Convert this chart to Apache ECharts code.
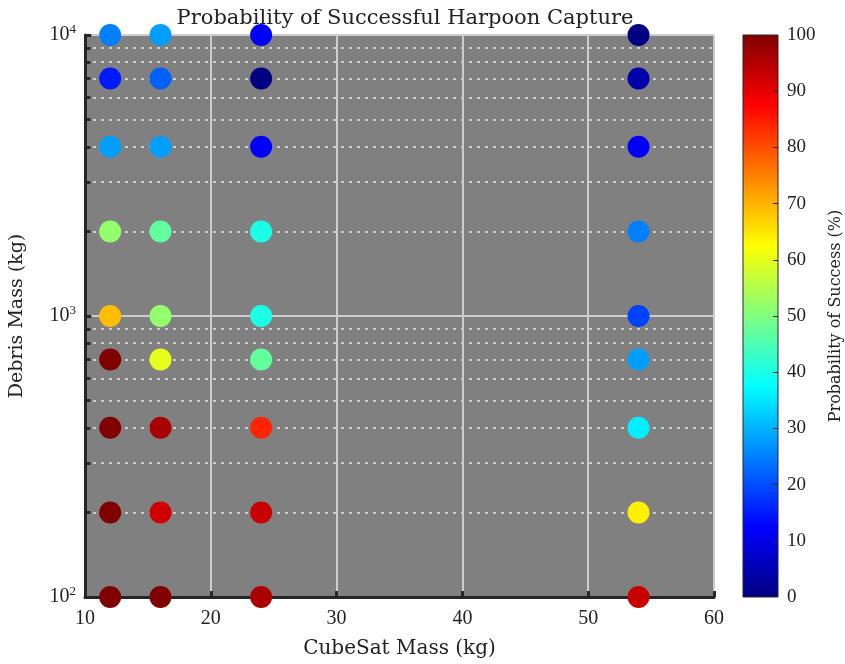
<!DOCTYPE html>
<html>
<head>
<meta charset="utf-8">
<script src="https://cdn.jsdelivr.net/npm/echarts@6/dist/echarts.min.js"></script>
<style>
html,body{margin:0;padding:0;background:#fff;}
#chart{width:845px;height:664px;}
</style>
</head>
<body>
<div id="chart"></div>
<script>
// ---- data ----
const cubesatMass = [12, 16, 24, 54];
const debrisMass = [100, 200, 400, 700, 1000, 2000, 4000, 7000, 10000];
// probability of success (%) for each debris mass, one array per CubeSat mass
const probCube12 = [100, 100, 100, 100, 69, 52, 28, 15, 25];
const probCube16 = [100, 92, 96, 60, 52, 47, 28, 22, 28];
const probCube24 = [96, 93, 84, 47, 40, 40, 12, 0, 12];
const probCube54 = [93, 64, 36, 28, 19, 25, 12, 4, 0];
const xTicks = [10, 20, 30, 40, 50, 60];
const minorY = [200, 300, 400, 500, 600, 700, 800, 900, 2000, 3000, 4000, 5000, 6000, 7000, 8000, 9000];
const majorY = [100, 1000, 10000];
const colorbarTicks = [10, 20, 30, 40, 50, 60, 70, 80, 90];

const jet = ['#000080', '#0000FF', '#0080FF', '#00FFFF', '#80FF80', '#FFFF00', '#FF8000', '#FF0000', '#800000'];

const probByCube = [probCube12, probCube16, probCube24, probCube54];
const points = [];
cubesatMass.forEach((cx, i) => {
  debrisMass.forEach((dy, j) => {
    points.push([cx, dy, probByCube[i][j]]);
  });
});

const numFont = 'Liberation Serif';
const txtFont = 'DejaVu Serif';
const axisDark = '#262626';
const gridLight = '#cdcdcd';

// minor dotted grid lines + left-axis ticks, x-axis ticks, colorbar ticks via markLine
const minorLines = minorY.map(v => ({ yAxis: v }));
const darkTick = { lineStyle: { color: axisDark, type: 'solid', width: 3 } };
const tickLines = [];
minorY.forEach(v => tickLines.push([Object.assign({ coord: [10, v] }, darkTick), { coord: [10.42, v] }]));
majorY.forEach(v => tickLines.push([Object.assign({ coord: [10, v] }, darkTick), { coord: [10.5, v] }]));
xTicks.forEach(v => tickLines.push([Object.assign({ coord: [v, 100] }, darkTick), { coord: [v, 105] }]));
const cbTickLines = colorbarTicks.map(v => [
  { coord: [1, v], lineStyle: { color: axisDark, type: 'solid', width: 1 } },
  { coord: [0.86, v] }
]);

const chart = echarts.init(document.getElementById('chart'), null, { renderer: 'canvas' });
chart.setOption({
  backgroundColor: '#ffffff',
  animation: false,
  title: {
    text: 'Probability of Successful Harpoon Capture',
    left: 400, top: 3, textAlign: 'center',
    textStyle: { fontFamily: txtFont, fontWeight: 'normal', fontSize: 21, color: '#222' }
  },
  grid: [
    { left: 85, top: 35, width: 629, height: 562, show: true, backgroundColor: '#808080', borderWidth: 0 },
    { left: 743, top: 35, width: 36, height: 562, show: false }
  ],
  visualMap: {
    show: false, type: 'continuous', min: 0, max: 100, dimension: 2, seriesIndex: 0,
    inRange: { color: jet }
  },
  xAxis: [
    {
      gridIndex: 0, type: 'value', min: 10, max: 60, interval: 10,
      name: 'CubeSat Mass (kg)', nameLocation: 'middle', nameGap: 42,
      nameTextStyle: { fontFamily: txtFont, fontSize: 20, color: '#222' },
      axisLine: { show: true, onZero: false, lineStyle: { color: axisDark, width: 3 } },
      axisTick: { show: false },
      axisLabel: { fontFamily: numFont, fontSize: 20, color: '#222', margin: 12 },
      splitLine: { show: true, lineStyle: { color: gridLight, width: 2 } }
    },
    { gridIndex: 1, type: 'value', min: 0, max: 1, show: false }
  ],
  yAxis: [
    {
      gridIndex: 0, type: 'log', logBase: 10, min: 100, max: 10000,
      name: 'Debris Mass (kg)', nameLocation: 'middle', nameGap: 58, nameRotate: 90,
      nameTextStyle: { fontFamily: txtFont, fontSize: 19, color: '#222' },
      axisLine: { show: true, onZero: false, lineStyle: { color: axisDark, width: 3 } },
      axisTick: { show: false },
      axisLabel: {
        margin: 9,
        formatter: v => '{b|10}{s|' + Math.round(Math.log10(v)) + '}',
        rich: {
          b: { fontFamily: numFont, fontSize: 20, color: '#222' },
          s: { fontFamily: numFont, fontSize: 13, color: '#222', verticalAlign: 'top', padding: [0, 0, 10, 0] }
        }
      },
      splitLine: { show: true, lineStyle: { color: gridLight, width: 2 } }
    },
    {
      gridIndex: 1, type: 'value', min: 0, max: 100, interval: 10, position: 'right',
      name: 'Probability of Success (%)', nameLocation: 'middle', nameGap: 50, nameRotate: 90,
      nameTextStyle: { fontFamily: txtFont, fontSize: 16, color: '#222' },
      axisLine: { show: false },
      axisTick: { show: false },
      axisLabel: { fontFamily: numFont, fontSize: 19, color: '#222', margin: 9 },
      splitLine: { show: false }
    }
  ],
  series: [
    {
      type: 'scatter', xAxisIndex: 0, yAxisIndex: 0, data: points,
      symbol: 'circle', symbolSize: 22, clip: false, z: 5,
      itemStyle: { opacity: 1 },
      markLine: {
        silent: true, symbol: 'none', animation: false, z: 3,
        label: { show: false },
        lineStyle: { color: gridLight, type: [3, 5], width: 2 },
        data: minorLines.concat(tickLines)
      }
    },
    {
      type: 'custom', xAxisIndex: 1, yAxisIndex: 1, data: [[0, 100]], z: 1, silent: true,
      renderItem: (params, api) => {
        const p0 = api.coord([0, 0]);
        const p1 = api.coord([1, 100]);
        const stops = jet.map((c, k) => ({ offset: k / (jet.length - 1), color: c }));
        return {
          type: 'rect',
          shape: { x: p0[0], y: p1[1], width: p1[0] - p0[0], height: p0[1] - p1[1] },
          style: {
            fill: new echarts.graphic.LinearGradient(0, 1, 0, 0, stops),
            stroke: axisDark, lineWidth: 1
          }
        };
      },
      markLine: {
        silent: true, symbol: 'none', animation: false, z: 3,
        label: { show: false },
        data: cbTickLines
      }
    }
  ]
});
</script>
</body>
</html>
